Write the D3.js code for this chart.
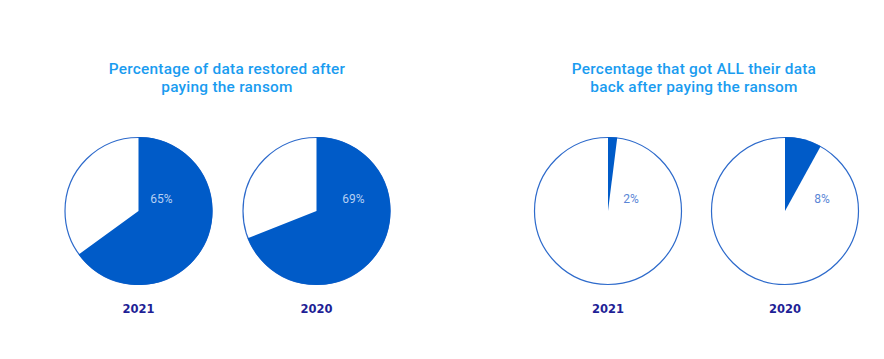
<!DOCTYPE html>
<html><head><meta charset="utf-8">
<script src="https://cdn.jsdelivr.net/npm/d3@7"></script>
<style>body{margin:0;background:#fff}svg{display:block}</style>
</head><body>
<svg id="c" width="884" height="359"></svg>
<script>
const groupTitles = [
  ["Percentage of data restored after", "paying the ransom"],
  ["Percentage that got ALL their data", "back after paying the ransom"]
];
const years = ["2021", "2020"];
const restoredValues = [65, 69];
const allDataValues = [2, 8];

const W = 884, H = 359;
const svg = d3.select("#c");
const FILL = "#005bc8", STROKE = "#2d6acb";

// layout
const groupCenters = [227, 694];
const pieCenters = [[138.5, 316.5], [608, 785]];
const labelDx = [23, 37];
const cy = 211, R = 74;

const x = d3.scaleLinear().domain([0, 100]).range([0, 2 * Math.PI]);
const arc = d3.arc().innerRadius(0).outerRadius(R);

const groups = [restoredValues, allDataValues];
groups.forEach((vals, gi) => {
  const t = svg.append("text")
    .attr("x", groupCenters[gi]).attr("y", 74)
    .attr("text-anchor", "middle")
    .attr("font-family", "Roboto, sans-serif")
    .attr("font-weight", 500)
    .attr("font-size", 15.4)
    .attr("letter-spacing", 0.25)
    .attr("fill", "#1a9cf0");
  groupTitles[gi].forEach((line, li) => {
    t.append("tspan").attr("x", groupCenters[gi]).attr("dy", li === 0 ? 0 : 18).text(line);
  });

  vals.forEach((v, pi) => {
    const g = svg.append("g").attr("transform", `translate(${pieCenters[gi][pi]},${cy})`);
    g.append("circle").attr("r", R - 0.5).attr("fill", "#fff").attr("stroke", STROKE).attr("stroke-width", 1.2);
    g.append("path")
      .attr("d", arc({startAngle: 0, endAngle: x(v)}))
      .attr("fill", FILL);
    const onBlue = v > 30;
    g.append("text")
      .attr("x", labelDx[pi]).attr("y", -8.5)
      .attr("text-anchor", "middle")
      .attr("font-family", "Roboto, sans-serif")
      .attr("font-size", 12)
      .attr("fill", onBlue ? "#b5d0f3" : "#5a86d6")
      .text(v + "%");
    svg.append("text")
      .attr("x", pieCenters[gi][pi]).attr("y", 313)
      .attr("text-anchor", "middle")
      .attr("font-family", "'DejaVu Sans', sans-serif")
      .attr("font-weight", 700)
      .attr("font-size", 11.5)
      .attr("fill", "#1f1f96")
      .text(years[pi]);
  });
});
</script>
</body></html>
